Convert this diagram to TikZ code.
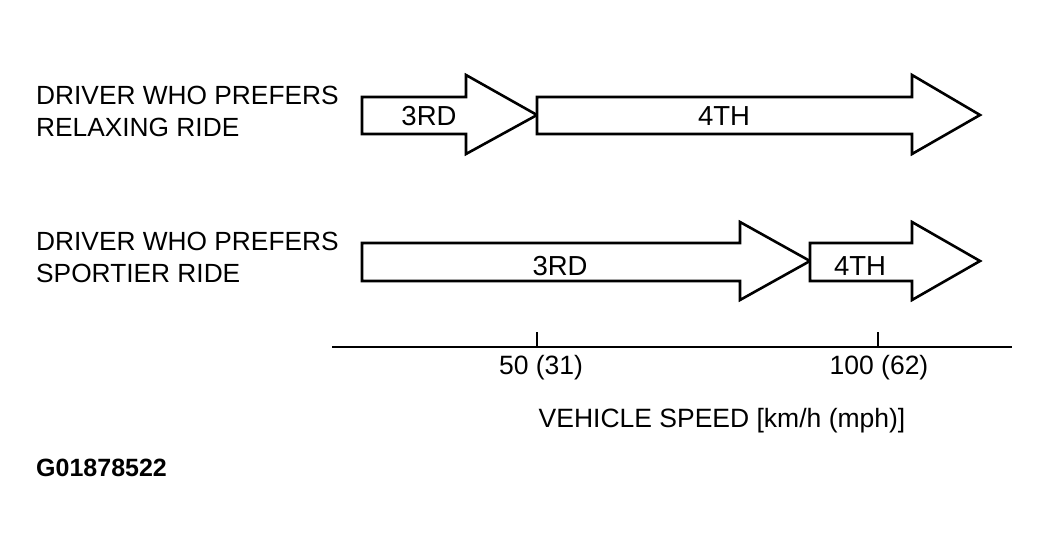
\documentclass[tikz,border=0pt]{standalone}
\usepackage{fontspec}
\setmainfont{Liberation Sans}
\begin{document}
\begin{tikzpicture}[x=1pt,y=-1pt,
  arr/.style={draw=black,line width=2.6pt,line join=miter,fill=white},
  lbl/.style={inner sep=0pt,font=\fontsize{26.5}{31}\selectfont},
  side/.style={inner sep=0pt,anchor=north west,align=left,font=\fontsize{26.3}{31.5}\selectfont}]
\useasboundingbox (0,0) rectangle (1049,553);
% row 1
\draw[arr] (362,97) -- (466,97) -- (466,75) -- (537,115) -- (466,154) -- (466,134) -- (362,134) -- cycle;
\draw[arr] (537,97) -- (912,97) -- (912,75) -- (980,115) -- (912,154) -- (912,134) -- (537,134) -- cycle;
% row 2
\draw[arr] (362,243) -- (740,243) -- (740,222) -- (810,261) -- (740,300) -- (740,281) -- (362,281) -- cycle;
\draw[arr] (810,243) -- (912,243) -- (912,222) -- (980,261) -- (912,300) -- (912,281) -- (810,281) -- cycle;
\node[lbl,font=\fontsize{27.5}{31}\selectfont] (r1a) at (429,116) {3RD};
\node[lbl,font=\fontsize{27.5}{31}\selectfont] (r1b) at (724,116) {4TH};
\node[lbl,font=\fontsize{27.5}{31}\selectfont] (r2a) at (560,266) {3RD};
\node[lbl,font=\fontsize{27.5}{31}\selectfont] (r2b) at (860,266) {4TH};
% side labels
\node[side] (d1) at (36,86) {DRIVER WHO PREFERS\\RELAXING RIDE};
\node[side] (d2) at (36,232) {DRIVER WHO PREFERS\\SPORTIER RIDE};
% axis
\coordinate (axl) at (332,347);
\coordinate (axr) at (1012,347);
\draw[line width=2.6pt] (axl) -- (axr);
\coordinate (t1) at (537,332);
\coordinate (t2) at (878,332);
\draw[line width=2pt] (t1) -- (537,347);
\draw[line width=2pt] (t2) -- (878,347);
\node[lbl] (v1) at (541,368) {50 (31)};
\node[lbl] (v2) at (879,368) {100 (62)};
\node[lbl] (vs) at (722,421) {VEHICLE SPEED [km/h (mph)]};
\node[lbl,anchor=west,font=\fontsize{25}{26}\selectfont\bfseries] (g) at (36,468) {G01878522};
\end{tikzpicture}
\end{document}
